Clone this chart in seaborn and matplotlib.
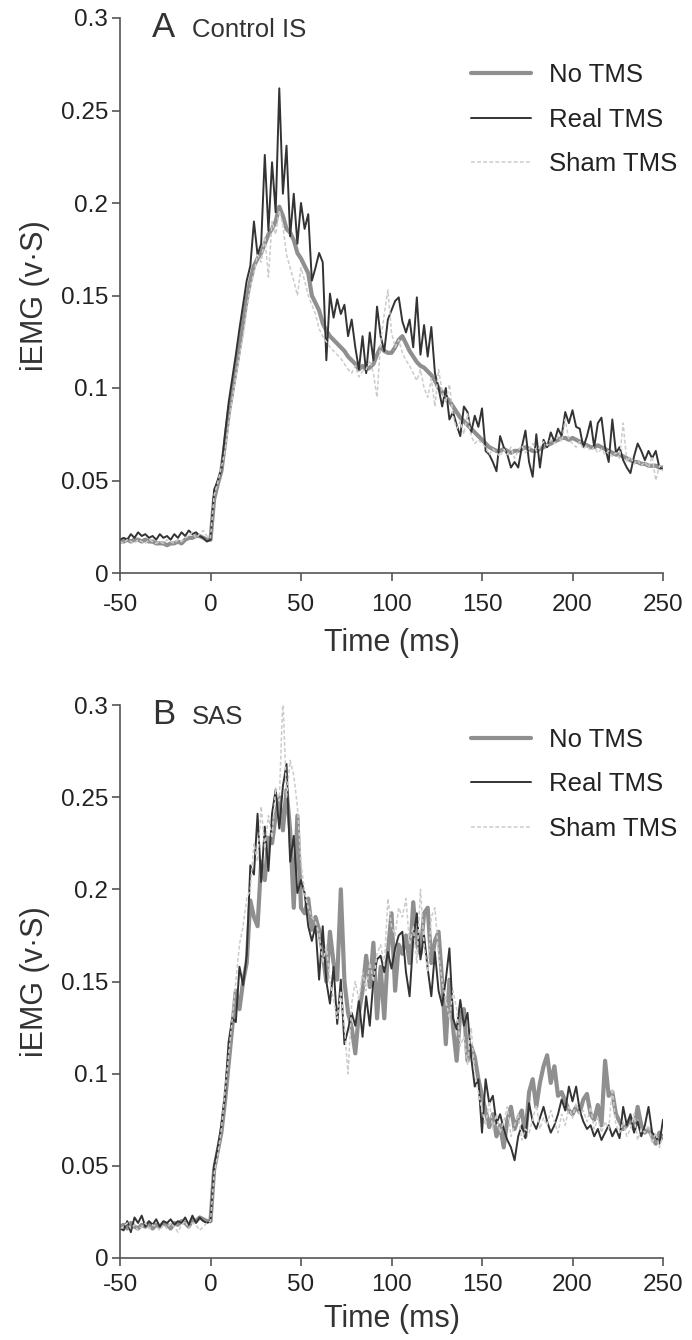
import numpy as np
import pandas as pd
import matplotlib
matplotlib.use("Agg")
import matplotlib.pyplot as plt
import seaborn as sns
from matplotlib.ticker import FuncFormatter

# ---------------- data (2 ms steps) ----------------
time_ms = np.arange(-50, 251, 2)

a_real = [0.018, 0.019, 0.018, 0.021, 0.019, 0.022, 0.020, 0.021, 0.019, 0.020, 0.018, 0.021, 0.019, 0.020, 0.018, 0.021, 0.019, 0.022, 0.020, 0.023, 0.021, 0.022, 0.020, 0.019, 0.017,
          0.018, 0.045, 0.050, 0.056, 0.075, 0.092, 0.105, 0.118, 0.132, 0.145, 0.158, 0.166, 0.190, 0.172, 0.178, 0.226, 0.185, 0.222, 0.195, 0.262, 0.205, 0.231, 0.182, 0.205, 0.178,
          0.200, 0.186, 0.194, 0.158, 0.165, 0.173, 0.168, 0.115, 0.151, 0.138, 0.148, 0.140, 0.145, 0.128, 0.137, 0.122, 0.110, 0.128, 0.108, 0.130, 0.115, 0.144, 0.128, 0.120, 0.137,
          0.142, 0.147, 0.149, 0.136, 0.130, 0.137, 0.122, 0.149, 0.118, 0.134, 0.117, 0.133, 0.108, 0.100, 0.090, 0.100, 0.083, 0.087, 0.080, 0.074, 0.090, 0.087, 0.076, 0.085, 0.079,
          0.089, 0.066, 0.064, 0.060, 0.055, 0.074, 0.068, 0.064, 0.057, 0.060, 0.057, 0.068, 0.077, 0.060, 0.052, 0.075, 0.057, 0.072, 0.068, 0.076, 0.071, 0.078, 0.074, 0.087, 0.081,
          0.088, 0.079, 0.078, 0.068, 0.074, 0.082, 0.068, 0.081, 0.084, 0.068, 0.060, 0.083, 0.065, 0.068, 0.061, 0.057, 0.054, 0.063, 0.070, 0.066, 0.061, 0.066, 0.062, 0.066, 0.057, 0.056]

a_none = [0.017, 0.017, 0.018, 0.017, 0.018, 0.018, 0.017, 0.018, 0.017, 0.017, 0.016, 0.016, 0.016, 0.015, 0.016, 0.016, 0.017, 0.016, 0.018, 0.019, 0.019, 0.020, 0.020, 0.019, 0.018,
          0.018, 0.040, 0.048, 0.055, 0.070, 0.086, 0.098, 0.110, 0.122, 0.135, 0.148, 0.158, 0.166, 0.170, 0.173, 0.178, 0.183, 0.186, 0.190, 0.198, 0.193, 0.186, 0.184, 0.180, 0.173,
          0.170, 0.166, 0.162, 0.150, 0.146, 0.142, 0.135, 0.131, 0.128, 0.126, 0.124, 0.122, 0.120, 0.117, 0.115, 0.113, 0.110, 0.112, 0.110, 0.111, 0.113, 0.118, 0.122, 0.120, 0.119,
          0.119, 0.122, 0.126, 0.128, 0.124, 0.120, 0.117, 0.114, 0.112, 0.111, 0.109, 0.107, 0.104, 0.100, 0.098, 0.095, 0.093, 0.090, 0.087, 0.084, 0.082, 0.080, 0.078, 0.076, 0.074,
          0.072, 0.070, 0.068, 0.067, 0.066, 0.066, 0.067, 0.066, 0.065, 0.066, 0.066, 0.067, 0.068, 0.067, 0.066, 0.066, 0.067, 0.068, 0.069, 0.070, 0.071, 0.072, 0.073, 0.073, 0.072,
          0.073, 0.072, 0.071, 0.070, 0.069, 0.068, 0.068, 0.069, 0.068, 0.067, 0.066, 0.065, 0.064, 0.064, 0.063, 0.062, 0.061, 0.060, 0.060, 0.059, 0.059, 0.058, 0.058, 0.058, 0.057, 0.057]

a_sham = [0.017, 0.016, 0.018, 0.017, 0.016, 0.018, 0.017, 0.016, 0.018, 0.017, 0.016, 0.017, 0.016, 0.018, 0.017, 0.016, 0.018, 0.017, 0.019, 0.020, 0.022, 0.019, 0.021, 0.023, 0.020,
          0.019, 0.042, 0.049, 0.057, 0.066, 0.080, 0.094, 0.106, 0.118, 0.128, 0.142, 0.155, 0.162, 0.172, 0.168, 0.182, 0.160, 0.190, 0.183, 0.196, 0.188, 0.172, 0.165, 0.158, 0.150,
          0.165, 0.158, 0.150, 0.145, 0.140, 0.132, 0.128, 0.125, 0.122, 0.120, 0.118, 0.116, 0.113, 0.110, 0.108, 0.112, 0.106, 0.109, 0.110, 0.115, 0.108, 0.095, 0.125, 0.140, 0.153,
          0.130, 0.122, 0.126, 0.119, 0.115, 0.112, 0.108, 0.104, 0.110, 0.100, 0.095, 0.105, 0.090, 0.110, 0.098, 0.092, 0.102, 0.085, 0.078, 0.082, 0.075, 0.086, 0.074, 0.070, 0.072,
          0.070, 0.068, 0.064, 0.067, 0.065, 0.063, 0.067, 0.064, 0.068, 0.062, 0.066, 0.069, 0.065, 0.067, 0.070, 0.066, 0.068, 0.071, 0.069, 0.072, 0.070, 0.074, 0.071, 0.083, 0.072,
          0.070, 0.068, 0.071, 0.067, 0.069, 0.066, 0.068, 0.065, 0.067, 0.064, 0.066, 0.063, 0.065, 0.062, 0.081, 0.060, 0.063, 0.059, 0.061, 0.058, 0.060, 0.057, 0.063, 0.050, 0.058, 0.055]

b_real = [0.016, 0.015, 0.020, 0.014, 0.022, 0.019, 0.023, 0.017, 0.020, 0.018, 0.021, 0.017, 0.020, 0.019, 0.021, 0.018, 0.020, 0.019, 0.022, 0.018, 0.023, 0.019, 0.022, 0.020, 0.019,
          0.020, 0.050, 0.060, 0.072, 0.088, 0.117, 0.130, 0.128, 0.158, 0.148, 0.164, 0.213, 0.208, 0.241, 0.204, 0.234, 0.210, 0.241, 0.254, 0.233, 0.256, 0.268, 0.215, 0.229, 0.198,
          0.205, 0.198, 0.180, 0.172, 0.180, 0.151, 0.180, 0.150, 0.138, 0.158, 0.127, 0.151, 0.116, 0.124, 0.133, 0.126, 0.140, 0.120, 0.142, 0.126, 0.151, 0.162, 0.164, 0.155, 0.166,
          0.157, 0.168, 0.175, 0.177, 0.155, 0.142, 0.173, 0.187, 0.162, 0.175, 0.157, 0.142, 0.166, 0.145, 0.137, 0.151, 0.168, 0.130, 0.124, 0.140, 0.126, 0.133, 0.109, 0.093, 0.097,
          0.068, 0.097, 0.084, 0.088, 0.073, 0.078, 0.070, 0.064, 0.060, 0.053, 0.066, 0.072, 0.065, 0.084, 0.074, 0.070, 0.076, 0.082, 0.074, 0.068, 0.072, 0.078, 0.086, 0.080, 0.093,
          0.085, 0.093, 0.080, 0.074, 0.070, 0.072, 0.066, 0.070, 0.064, 0.068, 0.072, 0.066, 0.070, 0.065, 0.082, 0.072, 0.078, 0.068, 0.074, 0.066, 0.072, 0.082, 0.068, 0.066, 0.062, 0.075]

b_none = [0.017, 0.018, 0.016, 0.019, 0.017, 0.016, 0.018, 0.017, 0.019, 0.016, 0.018, 0.017, 0.019, 0.018, 0.016, 0.019, 0.018, 0.020, 0.019, 0.017, 0.021, 0.020, 0.022, 0.021, 0.020,
          0.020, 0.048, 0.058, 0.068, 0.085, 0.105, 0.125, 0.145, 0.135, 0.150, 0.160, 0.194, 0.185, 0.180, 0.215, 0.205, 0.228, 0.225, 0.240, 0.250, 0.232, 0.254, 0.232, 0.190, 0.240,
          0.190, 0.187, 0.195, 0.178, 0.185, 0.178, 0.165, 0.150, 0.177, 0.160, 0.151, 0.200, 0.150, 0.133, 0.125, 0.111, 0.133, 0.145, 0.164, 0.147, 0.171, 0.130, 0.158, 0.130, 0.166,
          0.187, 0.145, 0.170, 0.165, 0.175, 0.160, 0.193, 0.170, 0.165, 0.187, 0.190, 0.160, 0.172, 0.177, 0.150, 0.116, 0.151, 0.125, 0.107, 0.133, 0.135, 0.107, 0.115, 0.109, 0.097,
          0.088, 0.080, 0.071, 0.078, 0.066, 0.072, 0.060, 0.075, 0.082, 0.070, 0.076, 0.080, 0.066, 0.090, 0.097, 0.082, 0.095, 0.104, 0.110, 0.095, 0.104, 0.088, 0.090, 0.085, 0.080,
          0.078, 0.082, 0.079, 0.086, 0.089, 0.078, 0.075, 0.083, 0.072, 0.107, 0.088, 0.090, 0.078, 0.074, 0.070, 0.072, 0.076, 0.070, 0.082, 0.072, 0.068, 0.070, 0.066, 0.062, 0.068, 0.065]

b_sham = [0.016, 0.017, 0.019, 0.016, 0.018, 0.015, 0.017, 0.019, 0.016, 0.018, 0.017, 0.015, 0.018, 0.016, 0.019, 0.017, 0.014, 0.018, 0.020, 0.016, 0.019, 0.018, 0.015, 0.017, 0.019,
          0.020, 0.046, 0.056, 0.070, 0.090, 0.110, 0.130, 0.150, 0.170, 0.180, 0.195, 0.200, 0.225, 0.215, 0.245, 0.222, 0.240, 0.228, 0.255, 0.248, 0.305, 0.250, 0.270, 0.262, 0.245,
          0.215, 0.198, 0.190, 0.185, 0.182, 0.176, 0.160, 0.170, 0.150, 0.140, 0.130, 0.145, 0.125, 0.100, 0.138, 0.150, 0.140, 0.155, 0.145, 0.160, 0.150, 0.165, 0.170, 0.158, 0.195,
          0.180, 0.175, 0.190, 0.185, 0.195, 0.170, 0.180, 0.160, 0.200, 0.170, 0.155, 0.185, 0.190, 0.165, 0.150, 0.140, 0.130, 0.145, 0.135, 0.115, 0.120, 0.105, 0.125, 0.100, 0.090,
          0.080, 0.072, 0.085, 0.070, 0.078, 0.068, 0.074, 0.082, 0.066, 0.072, 0.078, 0.064, 0.070, 0.068, 0.075, 0.083, 0.070, 0.076, 0.072, 0.080, 0.074, 0.068, 0.078, 0.072, 0.082,
          0.076, 0.084, 0.078, 0.080, 0.074, 0.082, 0.070, 0.076, 0.068, 0.074, 0.070, 0.092, 0.072, 0.068, 0.074, 0.066, 0.070, 0.078, 0.064, 0.070, 0.068, 0.072, 0.062, 0.068, 0.060, 0.066]

conditions = ["No TMS", "Real TMS", "Sham TMS"]
panel_letters = ["A", "B"]
panel_titles = ["Control IS", "SAS"]
x_ticks = [-50, 0, 50, 100, 150, 200, 250]
y_ticks = [0, 0.05, 0.1, 0.15, 0.2, 0.25, 0.3]

# ---------------- style ----------------
sns.set_style("ticks")
plt.rcParams["font.family"] = ["Liberation Sans", "DejaVu Sans"]
plt.rcParams["axes.unicode_minus"] = False
TXT = "#333333"
plt.rcParams["text.color"] = TXT
plt.rcParams["axes.labelcolor"] = TXT
plt.rcParams["xtick.color"] = "#555555"
plt.rcParams["ytick.color"] = "#555555"
plt.rcParams["xtick.labelcolor"] = "#222222"
plt.rcParams["ytick.labelcolor"] = "#222222"

styles = {
    "No TMS": dict(color="#8f8f8f", lw=3.0, ls="-"),
    "Real TMS": dict(color="#333333", lw=1.4, ls="-"),
    "Sham TMS": dict(color="#cbcbcb", lw=1.1, ls=(0, (2.5, 1.5))),
}

fig = plt.figure(figsize=(6.92, 13.40), dpi=100)
W, H = 692.0, 1340.0
ax_a = fig.add_axes([120 / W, 1 - 573 / H, 543 / W, 555 / H])
ax_b = fig.add_axes([120 / W, 1 - 1258 / H, 543 / W, 553 / H])

# (axes, series, legend top, x tick pad, x label pad)
panels = [
    (ax_a, {"No TMS": a_none, "Real TMS": a_real, "Sham TMS": a_sham}, 0.919, 9.5, 9),
    (ax_b, {"No TMS": b_none, "Real TMS": b_real, "Sham TMS": b_sham}, 0.959, 6, 6),
]

for k, (ax, series, leg_top, xpad, xlpad) in enumerate(panels):
    frames = []
    for c in conditions:
        frames.append(pd.DataFrame({"Time": time_ms, "iEMG": series[c], "Condition": c}))
    df = pd.concat(frames, ignore_index=True)
    for c in conditions:
        st = styles[c]
        sns.lineplot(data=df[df["Condition"] == c], x="Time", y="iEMG", ax=ax,
                     color=st["color"], linewidth=st["lw"], linestyle=st["ls"],
                     label=c, estimator=None, errorbar=None)
    ax.set_xlim(-50, 250)
    ax.set_ylim(0, 0.3)
    ax.set_xticks(x_ticks)
    ax.set_yticks(y_ticks)
    ax.yaxis.set_major_formatter(FuncFormatter(lambda v, p: f"{v:g}"))
    ax.tick_params(direction="out", length=5.5, width=1.2, labelsize=17.5)
    ax.tick_params(axis="x", pad=xpad)
    ax.tick_params(axis="y", pad=3)
    for s in ["top", "right"]:
        ax.spines[s].set_visible(False)
    for s in ["left", "bottom"]:
        ax.spines[s].set_color("#555555")
        ax.spines[s].set_linewidth(1.2)
    ax.set_xlabel("Time (ms)", fontsize=22, labelpad=xlpad)
    ax.set_ylabel("iEMG (v\u00b7S)", fontsize=22, labelpad=8)
    ax.text(0.059, 0.982, panel_letters[k], transform=ax.transAxes, fontsize=25,
            va="center", ha="left", color=TXT)
    ax.text(0.133, 0.978, panel_titles[k], transform=ax.transAxes, fontsize=18.5,
            va="center", ha="left", color=TXT)
    leg = ax.legend(loc="upper left", bbox_to_anchor=(0.646, leg_top), frameon=False,
                    fontsize=18.5, handlelength=2.35, handletextpad=0.7,
                    labelspacing=0.8, borderaxespad=0.0, borderpad=0.0)
    for t in leg.get_texts():
        t.set_color("#222222")

fig.savefig("out.png", dpi=100)
